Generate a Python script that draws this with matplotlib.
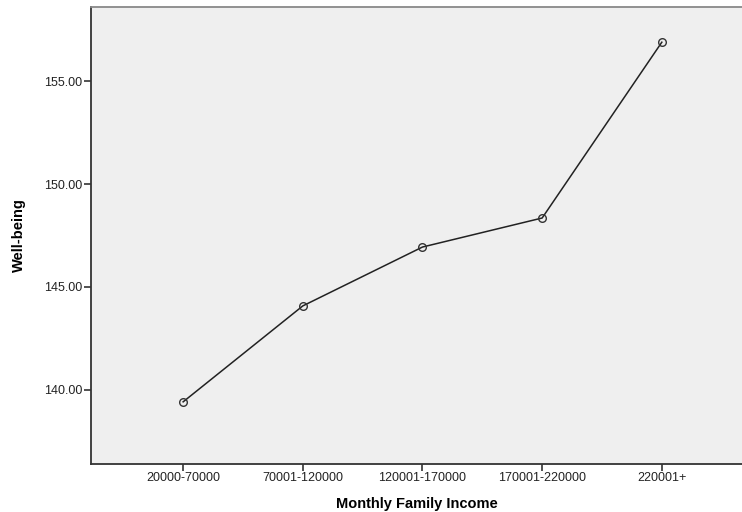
import matplotlib
matplotlib.use('Agg')
import matplotlib.pyplot as plt

plt.rcParams['font.family'] = ['Liberation Sans', 'DejaVu Sans']

income = ['20000-70000', '70001-120000', '120001-170000', '170001-220000', '220001+']
wellbeing = [139.42, 144.08, 146.94, 148.35, 156.89]

fig = plt.figure(figsize=(7.42, 5.12), dpi=100)
ax = fig.add_axes([91 / 742, 48 / 512, 651 / 742, 457 / 512])
ax.set_facecolor('#efefef')

x = range(len(income))
ax.plot(x, wellbeing, color='#222222', linewidth=1.1,
        marker='o', markersize=5.5, markerfacecolor='none',
        markeredgecolor='#333333', markeredgewidth=1.0)

ax.set_xlim(-0.77, 4.67)
ax.set_ylim(136.4, 158.6)
ax.set_xticks(list(x))
ax.set_xticklabels(income)
ax.set_yticks([140, 145, 150, 155])
ax.set_yticklabels(['%.2f' % v for v in [140, 145, 150, 155]])
ax.tick_params(axis='both', labelsize=9, length=5, width=1.2,
               color='#333333', labelcolor='#222222', pad=1)

for s in ['left', 'bottom']:
    ax.spines[s].set_color('#333333')
    ax.spines[s].set_linewidth(1.3)
ax.spines['top'].set_color('#888888')
ax.spines['top'].set_linewidth(1.3)
ax.spines['right'].set_visible(False)

ax.set_xlabel('Monthly Family Income', fontsize=10.5, fontweight='bold', labelpad=9)
ax.set_ylabel('Well-being', fontsize=10.5, fontweight='bold', labelpad=13)

fig.savefig('out.png', dpi=100)
